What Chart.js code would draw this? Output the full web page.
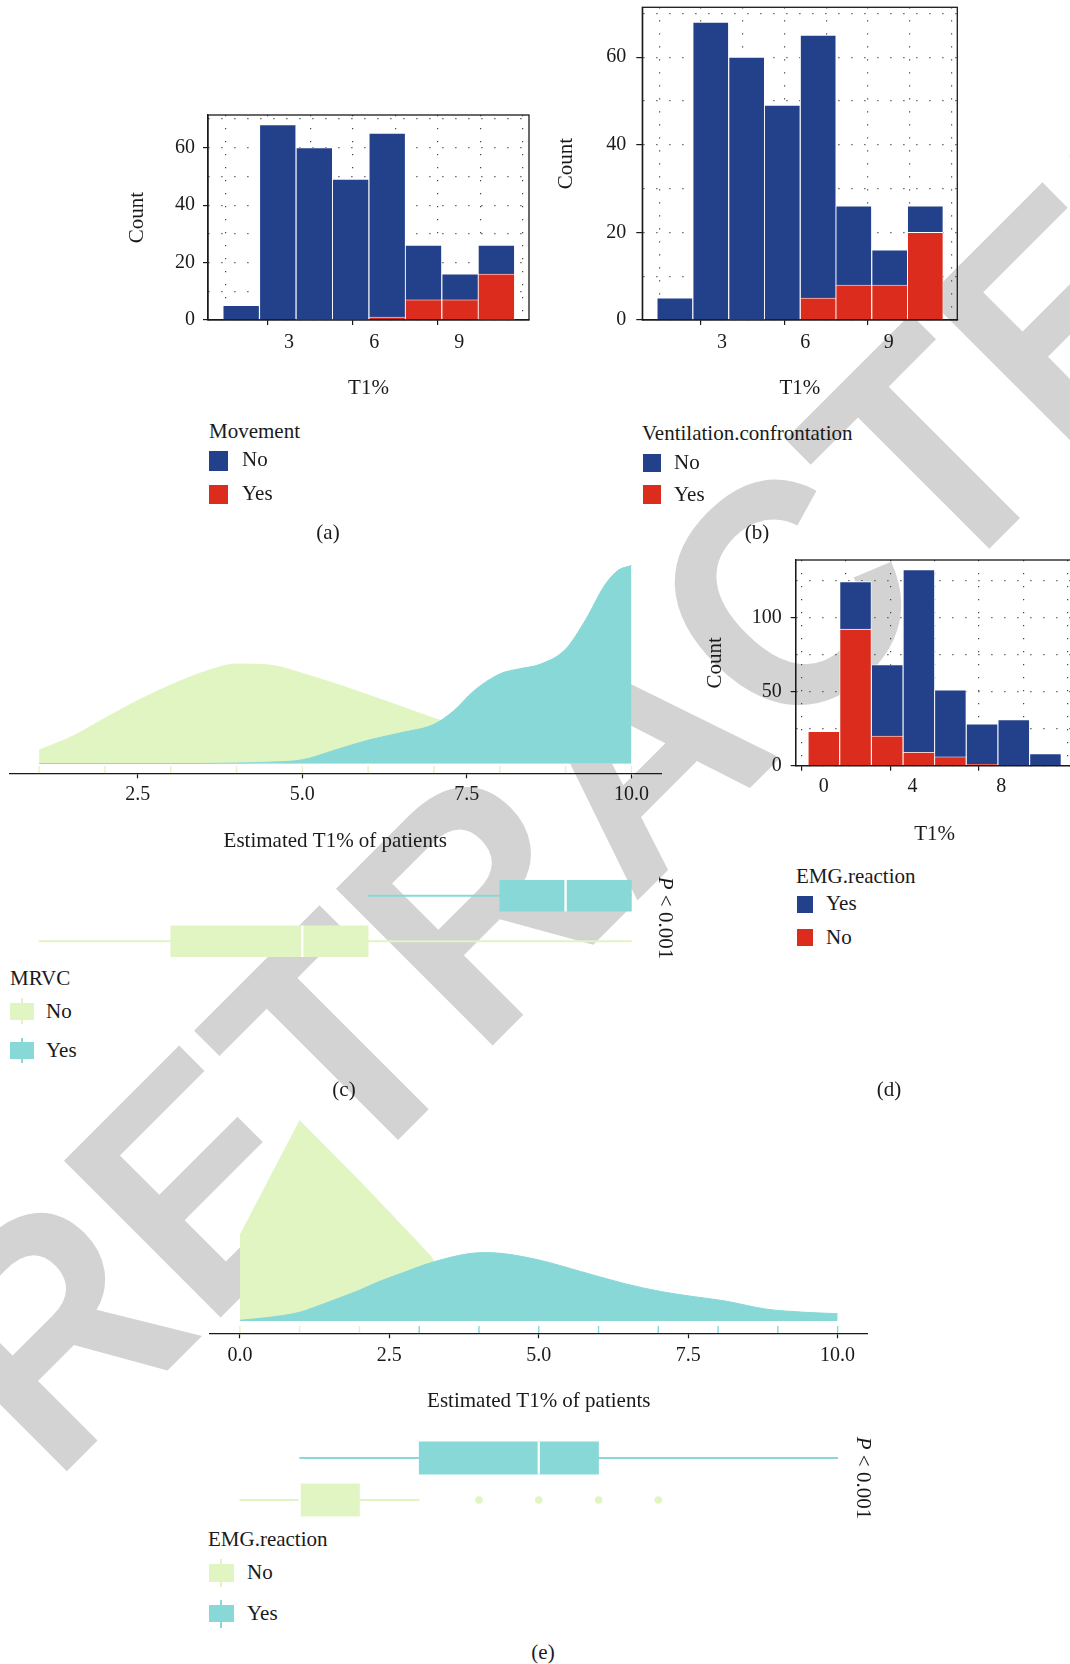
<!DOCTYPE html>
<html>
<head>
<meta charset="utf-8">
<script src="https://cdn.jsdelivr.net/npm/chart.js@4.4.0/dist/chart.umd.min.js"></script>
<style>
  html, body { margin: 0; padding: 0; overflow: hidden; }
  body { position: relative; width: 1070px; height: 1664px; background: #fff; font-family: "Liberation Serif", "DejaVu Serif", serif; color: #1a1a1a; }
  canvas { position: absolute; z-index: 1; }
  .t { position: absolute; z-index: 2; font-size: 21px; line-height: 24px; height: 24px; white-space: nowrap; }
  .k { position: absolute; z-index: 2; }
  .w { position: absolute; z-index: 2; width: 2px; }
  #marca { position: absolute; left: 0; top: 0; z-index: 0; }
</style>
</head>
<body>

<svg id="marca" width="1070" height="1664">
  <text x="0" y="0" transform="translate(52.6 1485.4) rotate(-45) scale(0.935 1)" font-family="Liberation Sans, Arial, sans-serif" font-weight="700" font-size="322" fill="#d3d3d3">RETRACTED</text>
</svg>

<canvas id="g1" width="420" height="305" style="left:120px;top:105px"></canvas>
<canvas id="g2" width="420" height="410" style="left:550px;top:0px"></canvas>
<canvas id="g3" width="680" height="320" style="left:0px;top:540px"></canvas>
<canvas id="g3b" width="680" height="91" style="left:0px;top:873px"></canvas>
<canvas id="g4" width="400" height="300" style="left:680px;top:550px"></canvas>
<canvas id="g5" width="700" height="320" style="left:180px;top:1100px"></canvas>
<canvas id="g5b" width="700" height="92" style="left:180px;top:1433px"></canvas>

<!-- leyenda (a) -->
<div class="t" style="left:209px;top:419px">Movement</div>
<div class="k" style="left:209px;top:451px;width:19px;height:20px;background:#23418a"></div>
<div class="t" style="left:242px;top:447px">No</div>
<div class="k" style="left:209px;top:485px;width:19px;height:19px;background:#dc2c1e"></div>
<div class="t" style="left:242px;top:481px">Yes</div>
<div class="t" style="left:300px;top:520px;width:56px;text-align:center">(a)</div>

<!-- leyenda (b) -->
<div class="t" style="left:642px;top:421px">Ventilation.confrontation</div>
<div class="k" style="left:643px;top:454px;width:18px;height:18px;background:#23418a"></div>
<div class="t" style="left:674px;top:450px">No</div>
<div class="k" style="left:643px;top:485px;width:18px;height:19px;background:#dc2c1e"></div>
<div class="t" style="left:674px;top:482px">Yes</div>
<div class="t" style="left:729px;top:520px;width:56px;text-align:center">(b)</div>

<!-- leyenda (c) -->
<div class="t" style="left:10px;top:966px">MRVC</div>
<div class="w" style="left:21px;top:998px;height:26px;background:#e0f5c1"></div>
<div class="k" style="left:10px;top:1003px;width:24px;height:17px;background:#e0f5c1"></div>
<div class="t" style="left:46px;top:999px">No</div>
<div class="w" style="left:21px;top:1038px;height:25px;background:#88d8d8"></div>
<div class="k" style="left:10px;top:1042px;width:24px;height:17px;background:#88d8d8"></div>
<div class="t" style="left:46px;top:1038px">Yes</div>
<div class="t" style="left:316px;top:1077px;width:56px;text-align:center">(c)</div>
<div class="t" style="left:616px;top:906px;width:100px;text-align:center;transform:rotate(90deg)"><i>P</i> &lt; 0.001</div>

<!-- leyenda (d) -->
<div class="t" style="left:796px;top:864px">EMG.reaction</div>
<div class="k" style="left:797px;top:896px;width:16px;height:17px;background:#23418a"></div>
<div class="t" style="left:826px;top:891px">Yes</div>
<div class="k" style="left:797px;top:929px;width:16px;height:17px;background:#dc2c1e"></div>
<div class="t" style="left:826px;top:925px">No</div>
<div class="t" style="left:861px;top:1077px;width:56px;text-align:center">(d)</div>

<!-- leyenda (e) -->
<div class="t" style="left:208px;top:1527px">EMG.reaction</div>
<div class="w" style="left:220px;top:1559px;height:28px;background:#e0f5c1"></div>
<div class="k" style="left:209px;top:1564px;width:25px;height:18px;background:#e0f5c1"></div>
<div class="t" style="left:247px;top:1560px">No</div>
<div class="w" style="left:220px;top:1600px;height:28px;background:#88d8d8"></div>
<div class="k" style="left:209px;top:1605px;width:25px;height:17px;background:#88d8d8"></div>
<div class="t" style="left:247px;top:1601px">Yes</div>
<div class="t" style="left:515px;top:1640px;width:56px;text-align:center">(e)</div>
<div class="t" style="left:814px;top:1466px;width:100px;text-align:center;transform:rotate(90deg)"><i>P</i> &lt; 0.001</div>

<script>
// Datos
// histogramas (a) y (b): centros de las barras
const centrosAB = [1.31, 2.60, 3.89, 5.17, 6.46, 7.74, 9.03, 10.31];
const movimientoNo  = [5, 68, 60, 49, 64, 19, 9, 10];
const movimientoSi  = [0, 0, 0, 0, 1, 7, 7, 16];
const ventilacionNo = [5, 68, 60, 49, 60, 18, 8, 6];
const ventilacionSi = [0, 0, 0, 0, 5, 8, 8, 20];
// histograma (d)
const centrosD = [0, 1.43, 2.86, 4.29, 5.71, 7.14, 8.57, 10];
const emgSi = [0, 32, 48, 123, 45, 27, 31, 8];
const emgNo = [23, 92, 20, 9, 6, 1, 0, 0];

// densidades (c)
const mrvcNoX = [1, 1.5, 2, 2.5, 3, 3.5, 4, 4.5, 5, 5.5, 6, 6.5, 7, 7.5, 8, 8.5, 9, 9.5, 10];
const mrvcNoY = [0.029, 0.058, 0.097, 0.135, 0.168, 0.196, 0.213, 0.211, 0.193, 0.171, 0.147, 0.122, 0.097, 0.074, 0.054, 0.038, 0.026, 0.017, 0.011];
const mrvcSiX = [1, 2, 3, 4, 4.5, 5, 5.5, 6, 6.5, 7, 7.3, 7.6, 8, 8.3, 8.6, 9, 9.3, 9.6, 9.8, 10];
const mrvcSiY = [0, 0, 0, 0.001, 0.003, 0.008, 0.029, 0.05, 0.066, 0.084, 0.113, 0.155, 0.192, 0.203, 0.212, 0.245, 0.307, 0.383, 0.414, 0.424];
const rugMrvc = [1, 2, 3, 4, 5, 6, 7, 8, 9, 10];
// cajas (c): min, q1, mediana, q3, max
const cajaMrvcSi = [6, 8, 9, 10, 10];
const cajaMrvcNo = [1, 3, 5, 6, 10];

// densidades (e)
const emgNoX = [0, 1, 2, 3, 3.2, 3.4, 3.7, 4, 5, 6, 7];
const emgNoY = [0.186, 0.436, 0.305, 0.168, 0.14, 0.09, 0.05, 0.03, 0.012, 0.008, 0.004];
const emgSiX = [0, 0.5, 1, 1.25, 1.6, 2, 2.35, 2.75, 3.1, 3.5, 3.85, 4.1, 4.4, 5, 5.7, 6.45, 7.05, 7.6, 8.1, 8.8, 9.45, 10];
const emgSiY = [0.0015, 0.008, 0.019, 0.030, 0.047, 0.067, 0.087, 0.106, 0.123, 0.138, 0.147, 0.149, 0.147, 0.133, 0.108, 0.081, 0.064, 0.053, 0.044, 0.026, 0.019, 0.016];
const rugEmgNo = [0, 1, 2];
const rugEmgSi = [3, 4, 5, 6, 7, 8, 9, 10];
// cajas (e)
const cajaEmgSi = [1, 3, 5, 6, 10];
const cajaEmgNo = [0, 1, 1, 2, 3];
const atipicosEmgNo = [4, 5, 6, 7];

const azul = '#23418a';
const rojo = '#dc2c1e';
const verde = '#e0f5c1';
const cian = '#88d8d8';
const negro = '#1a1a1a';

Chart.defaults.font.family = '"Liberation Serif", "DejaVu Serif", serif';
Chart.defaults.color = negro;
Chart.defaults.animation = false;
Chart.defaults.plugins.legend.display = false;
Chart.defaults.plugins.tooltip.enabled = false;

// tamaño fijo de cada eje para que el area del grafico caiga donde toca
function fija(tam) {
  return function (s) {
    if (s.isHorizontal()) s.height = tam; else s.width = tam;
    s.paddingLeft = 0; s.paddingRight = 0; s.paddingTop = 0; s.paddingBottom = 0;
  };
}

const marco = {
  id: 'marco',
  afterDraw(chart) {
    const { ctx, chartArea: a } = chart;
    ctx.save();
    ctx.strokeStyle = negro;
    ctx.lineWidth = 1.3;
    ctx.strokeRect(a.left, a.top, a.right - a.left, a.bottom - a.top);
    ctx.restore();
  }
};

function colorMarca(lista) {
  return c => (c.tick && lista.includes(c.tick.value)) ? negro : 'rgba(0,0,0,0)';
}

function histograma(id, centros, abajo, arriba, colAbajo, colArriba, op) {
  new Chart(document.getElementById(id), {
    type: 'bar',
    data: {
      datasets: [
        { data: centros.map((x, i) => ({ x: x, y: abajo[i] })), backgroundColor: colAbajo },
        { data: centros.map((x, i) => ({ x: x, y: arriba[i] })), backgroundColor: colArriba }
      ]
    },
    options: {
      responsive: false,
      layout: { padding: { top: op.pt, right: op.pr, left: 0, bottom: 0 } },
      datasets: { bar: { barPercentage: 1, categoryPercentage: 1, borderColor: '#ffffff', borderWidth: 0.8 } },
      scales: {
        x: {
          type: 'linear', min: op.xmin, max: op.xmax, stacked: true, offset: false,
          afterBuildTicks: s => { s.ticks = op.xt.map(v => ({ value: v })); },
          afterFit: fija(op.xh),
          grid: {
            color: '#444', lineWidth: 1.2, tickLength: 5, tickWidth: 1.2, tickBorderDash: [],
            tickColor: colorMarca(op.xm)
          },
          border: { color: negro, width: 1.3, dash: [1.2, 11.8] },
          ticks: {
            padding: op.xp, autoSkip: false, maxRotation: 0, font: { size: 20 },
            callback: v => op.xm.includes(v) ? String(v) : ''
          },
          title: { display: true, text: 'T1%', font: { size: 21 }, padding: { top: 0, bottom: op.xtb } }
        },
        y: {
          min: 0, max: op.ymax, stacked: true,
          afterBuildTicks: s => { s.ticks = op.yt.map(v => ({ value: v })); },
          afterFit: fija(op.yw),
          grid: {
            color: '#444', lineWidth: 1.2, tickLength: op.ytl, tickWidth: 1.2, tickBorderDash: [],
            tickColor: colorMarca(op.ym)
          },
          border: { color: negro, width: 1.3, dash: [1.2, 11.8] },
          ticks: {
            padding: op.yp, autoSkip: false, font: { size: 20 },
            callback: v => op.ym.includes(v) ? String(v) : ''
          },
          title: { display: true, text: 'Count', font: { size: 21 }, padding: { top: op.ytp, bottom: 0 } }
        }
      }
    },
    plugins: [marco]
  });
}

// (a)
histograma('g1', centrosAB, movimientoSi, movimientoNo, rojo, azul, {
  pt: 10, pr: 11, xmin: 0.14, xmax: 11.46, xh: 90, xp: 6, xtb: 9.4,
  xt: [1.5, 3, 4.5, 6, 7.5, 9, 10.5], xm: [3, 6, 9],
  ymax: 71.4, yw: 88, ytl: 5, yp: 8, ytp: 4.4,
  yt: [0, 10, 20, 30, 40, 50, 60, 70], ym: [0, 20, 40, 60]
});

// (b)
histograma('g2', centrosAB, ventilacionSi, ventilacionNo, rojo, azul, {
  pt: 7.3, pr: 12.7, xmin: 0.14, xmax: 11.46, xh: 90, xp: 6, xtb: 9.4,
  xt: [1.5, 3, 4.5, 6, 7.5, 9, 10.5], xm: [3, 6, 9],
  ymax: 71.4, yw: 92.3, ytl: 6, yp: 10, ytp: 4.1,
  yt: [0, 10, 20, 30, 40, 50, 60, 70], ym: [0, 20, 40, 60]
});

// (d)
histograma('g4', centrosD, emgNo, emgSi, rojo, azul, {
  pt: 10, pr: 6.4, xmin: -1.27, xmax: 11.27, xh: 84.3, xp: 4.3, xtb: 3.4,
  xt: [0, 2, 4, 6, 8, 10], xm: [0, 4, 8],
  ymax: 138.6, yw: 115.7, ytl: 5, yp: 9, ytp: 22.4,
  yt: [0, 25, 50, 75, 100, 125], ym: [0, 50, 100]
});

function densidad(id, series, rugs, op) {
  const datasets = [];
  series.forEach(s => {
    datasets.push({
      type: 'line',
      data: s.x.map((x, i) => ({ x: x, y: s.y[i] })),
      fill: 'origin', backgroundColor: s.color, borderColor: s.color, borderWidth: 1,
      pointRadius: 0, tension: s.suave ? 0.4 : 0,
      cubicInterpolationMode: s.suave ? 'monotone' : 'default',
      order: s.order
    });
  });
  rugs.forEach(r => {
    datasets.push({
      type: 'scatter',
      data: r.x.map(x => ({ x: x, y: op.yrug })),
      pointStyle: 'line', pointRotation: 90, pointRadius: 3.6,
      pointBorderColor: r.color, pointBorderWidth: 1.4, order: r.order
    });
  });
  new Chart(document.getElementById(id), {
    type: 'line',
    data: { datasets: datasets },
    options: {
      responsive: false,
      layout: { padding: { top: 0, right: op.pr, left: op.pl, bottom: 0 } },
      scales: {
        x: {
          type: 'linear', min: op.xmin, max: op.xmax,
          afterBuildTicks: s => { s.ticks = op.xt.map(v => ({ value: v })); },
          afterFit: fija(86.7),
          grid: { drawOnChartArea: false, tickLength: 5, tickWidth: 1.2, tickColor: negro },
          border: { color: negro, width: 1.3 },
          ticks: { padding: op.xp, autoSkip: false, maxRotation: 0, font: { size: 20 }, callback: v => v.toFixed(1) },
          title: { display: true, text: 'Estimated T1% of patients', font: { size: 21 }, padding: { top: 0, bottom: 5.7 } }
        },
        y: { display: false, min: op.ymin, max: op.ymax }
      }
    }
  });
}

function cajas(id, si, no, colores, atipicos, op) {
  const datasets = [
    { data: [[si[2] - 0.013, si[2] + 0.013], [no[2] - 0.013, no[2] + 0.013]], backgroundColor: '#ffffff', barThickness: op.grosor, order: 0 },
    { data: [[si[1], si[3]], [no[1], no[3]]], backgroundColor: colores, barThickness: op.grosor, order: 1 },
    { data: [[si[0], si[4]], [no[0], no[4]]], backgroundColor: colores, barThickness: 1.5, order: 2 }
  ];
  if (atipicos.length) {
    datasets.push({
      type: 'scatter',
      data: atipicos.map(x => ({ x: x, y: 'No' })),
      pointRadius: 3.8, backgroundColor: colores[1], borderWidth: 0, order: 3
    });
  }
  new Chart(document.getElementById(id), {
    type: 'bar',
    data: { labels: ['Yes', 'No'], datasets: datasets },
    options: {
      responsive: false,
      indexAxis: 'y',
      layout: { padding: { top: 0, right: op.pr, left: op.pl, bottom: 0 } },
      datasets: { bar: { grouped: false, borderWidth: 0 } },
      scales: {
        x: { type: 'linear', display: false, min: op.xmin, max: op.xmax },
        y: { display: false }
      }
    }
  });
}

// (c)
densidad('g3', [
  { x: mrvcNoX, y: mrvcNoY, color: verde, suave: true, order: 2 },
  { x: mrvcSiX, y: mrvcSiY, color: cian, suave: true, order: 1 }
], [
  { x: rugMrvc, color: verde, order: 0 }
], { pl: 9.5, pr: 19, xmin: 0.55, xmax: 10.45, xt: [2.5, 5, 7.5, 10], xp: 4.7, ymin: -0.0209, ymax: 0.4672, yrug: -0.013 });

cajas('g3b', cajaMrvcSi, cajaMrvcNo, [cian, verde], [], { pl: 9.5, pr: 19, xmin: 0.55, xmax: 10.45, grosor: 31 });

// (e)
densidad('g5', [
  { x: emgNoX, y: emgNoY, color: verde, suave: false, order: 2 },
  { x: emgSiX, y: emgSiY, color: cian, suave: true, order: 1 }
], [
  { x: rugEmgNo, color: verde, order: 0 },
  { x: rugEmgSi, color: cian, order: 0 }
], { pl: 30, pr: 12.5, xmin: -0.5, xmax: 10.5, xt: [0, 2.5, 5, 7.5, 10], xp: 5.7, ymin: -0.0268, ymax: 0.4696, yrug: -0.019 });

cajas('g5b', cajaEmgSi, cajaEmgNo, [cian, verde], atipicosEmgNo, { pl: 30, pr: 12.5, xmin: -0.5, xmax: 10.5, grosor: 32.5 });
</script>
</body>
</html>
